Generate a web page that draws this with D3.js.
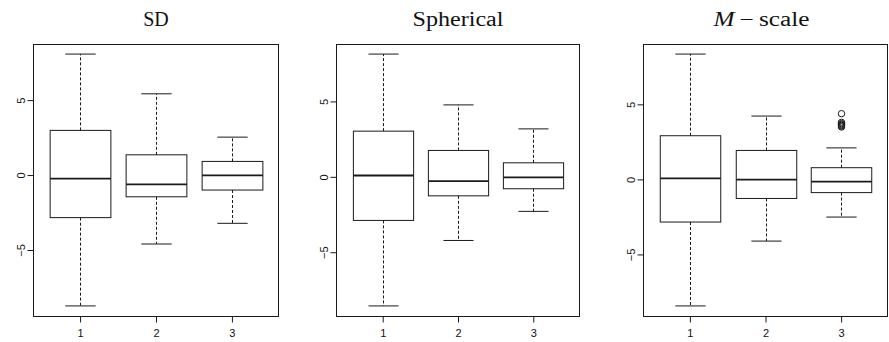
<!DOCTYPE html>
<html>
<head>
<meta charset="utf-8">
<script src="https://cdn.jsdelivr.net/npm/d3@7"></script>
<style>
  html, body { margin: 0; padding: 0; background: #fff; }
  svg { display: block; }
</style>
</head>
<body>
<svg id="chart" width="889" height="342"></svg>
<script>
// Groups on the x axis
const categories = ["1", "2", "3"];
const yTicks = [-5, 0, 5];

// Five-number summaries per group: [lower whisker, Q1, median, Q3, upper whisker]
const sdStats = [
  [-8.73, -2.84, -0.24, 2.98, 8.07],
  [-4.60, -1.45, -0.62, 1.35, 5.42],
  [-3.22, -1.00, -0.02, 0.91, 2.53]
];
const sphericalStats = [
  [-8.56, -2.89, 0.09, 3.03, 8.14],
  [-4.22, -1.26, -0.28, 1.75, 4.77],
  [-2.29, -0.79, -0.04, 0.93, 3.18]
];
const mscaleStats = [
  [-8.43, -2.84, 0.07, 2.91, 8.35],
  [-4.11, -1.27, -0.02, 1.93, 4.22],
  [-2.51, -0.88, -0.15, 0.78, 2.10]
];

// Outlying points per group
const sdOutliers = [[], [], []];
const sphericalOutliers = [[], [], []];
const mscaleOutliers = [[], [], [4.38, 3.80, 3.72, 3.66, 3.60, 3.55, 3.49]];

const panels = [
  { title: [{ t: "SD" }], titleWidth: null, titleShift: 0,
    stats: sdStats, outliers: sdOutliers, x0: 33, x1: 279 },
  { title: [{ t: "Spherical" }], titleWidth: 91, titleShift: 0,
    stats: sphericalStats, outliers: sphericalOutliers, x0: 336, x1: 580 },
  { title: [{ t: "M", italic: true }, { t: "\u2009\u2212\u2009" }, { t: "scale" }], titleWidth: 96, titleShift: -4,
    stats: mscaleStats, outliers: mscaleOutliers, x0: 643, x1: 888 }
];

const plotTop = 44, plotBottom = 316;
const svg = d3.select("#chart");
const ink = "#1a1a1a";

panels.forEach(p => {
  const g = svg.append("g");

  // y extent from whiskers and outliers, padded 4% on each side
  const allVals = p.stats.flat().concat(p.outliers.flat());
  const lo = d3.min(allVals), hi = d3.max(allVals);
  const pad = 0.04 * (hi - lo);
  const y = d3.scaleLinear().domain([lo - pad, hi + pad]).range([plotBottom, plotTop]);

  const n = categories.length;
  const xPad = 0.04 * n;
  const x = d3.scaleLinear().domain([0.5 - xPad, n + 0.5 + xPad]).range([p.x0, p.x1]);
  const boxW = x(1.4) - x(1.0);   // half of a 0.8-wide box
  const capW = boxW / 2;

  // plot frame
  g.append("rect")
    .attr("x", p.x0 + 0.5).attr("y", plotTop + 0.5)
    .attr("width", p.x1 - p.x0 - 1).attr("height", plotBottom - plotTop)
    .attr("fill", "none").attr("stroke", ink).attr("stroke-width", 1);

  // y axis
  const yAxis = g.append("g")
    .attr("transform", `translate(${p.x0 + 0.5},0)`)
    .call(d3.axisLeft(y).tickValues(yTicks).tickSize(6).tickSizeOuter(0).tickFormat(d => d < 0 ? "\u2212" + Math.abs(d) : d));
  yAxis.select(".domain").remove();
  yAxis.selectAll(".tick line").attr("stroke", ink);
  yAxis.selectAll(".tick text")
    .attr("transform", "rotate(-90)")
    .attr("x", 0).attr("y", -9).attr("dy", 0)
    .attr("text-anchor", "middle")
    .attr("font-family", "Liberation Sans, Arial, Helvetica, sans-serif")
    .attr("font-size", 11).attr("fill", "#111");

  // x axis
  const xAxis = g.append("g")
    .attr("transform", `translate(0,${plotBottom + 0.5})`)
    .call(d3.axisBottom(x).tickValues(d3.range(1, n + 1)).tickSize(6).tickSizeOuter(0).tickFormat(d => categories[d - 1]));
  xAxis.select(".domain").remove();
  xAxis.selectAll(".tick line").attr("stroke", ink);
  xAxis.selectAll(".tick text")
    .attr("y", 13).attr("dy", "0.71em")
    .attr("font-family", "Liberation Sans, Arial, Helvetica, sans-serif")
    .attr("font-size", 11).attr("fill", "#111");

  // boxes
  p.stats.forEach((s, i) => {
    const cx = Math.round(x(i + 1)) + 0.5;
    const [wl, q1, med, q3, wu] = s;
    const bg = g.append("g");
    // whiskers (dashed)
    bg.append("line").attr("x1", cx).attr("x2", cx).attr("y1", y(q3)).attr("y2", y(wu))
      .attr("stroke", ink).attr("stroke-dasharray", "3,2");
    bg.append("line").attr("x1", cx).attr("x2", cx).attr("y1", y(q1)).attr("y2", y(wl))
      .attr("stroke", ink).attr("stroke-dasharray", "3,2");
    // staples
    [wl, wu].forEach(v => {
      bg.append("line").attr("x1", cx - capW).attr("x2", cx + capW).attr("y1", y(v)).attr("y2", y(v))
        .attr("stroke", ink);
    });
    // box
    bg.append("rect")
      .attr("x", cx - boxW).attr("y", y(q3))
      .attr("width", 2 * boxW).attr("height", y(q1) - y(q3))
      .attr("fill", "none").attr("stroke", ink);
    // median
    bg.append("line").attr("x1", cx - boxW).attr("x2", cx + boxW).attr("y1", y(med)).attr("y2", y(med))
      .attr("stroke", ink).attr("stroke-width", 1.8);
    // outliers
    bg.selectAll("circle").data(p.outliers[i]).join("circle")
      .attr("cx", cx).attr("cy", d => y(d)).attr("r", 3.2)
      .attr("fill", "none").attr("stroke", ink).attr("stroke-width", 1);
  });

  // title
  const title = g.append("text")
    .attr("x", (p.x0 + p.x1) / 2 + p.titleShift).attr("y", 26)
    .attr("text-anchor", "middle")
    .attr("font-family", "Liberation Serif, Times New Roman, Times, serif")
    .attr("font-size", 20).attr("fill", "#111");
  if (p.titleWidth) {
    title.attr("textLength", p.titleWidth).attr("lengthAdjust", "spacingAndGlyphs");
  }
  p.title.forEach(part => {
    title.append("tspan").text(part.t).attr("font-style", part.italic ? "italic" : null);
  });
});
</script>
</body>
</html>
